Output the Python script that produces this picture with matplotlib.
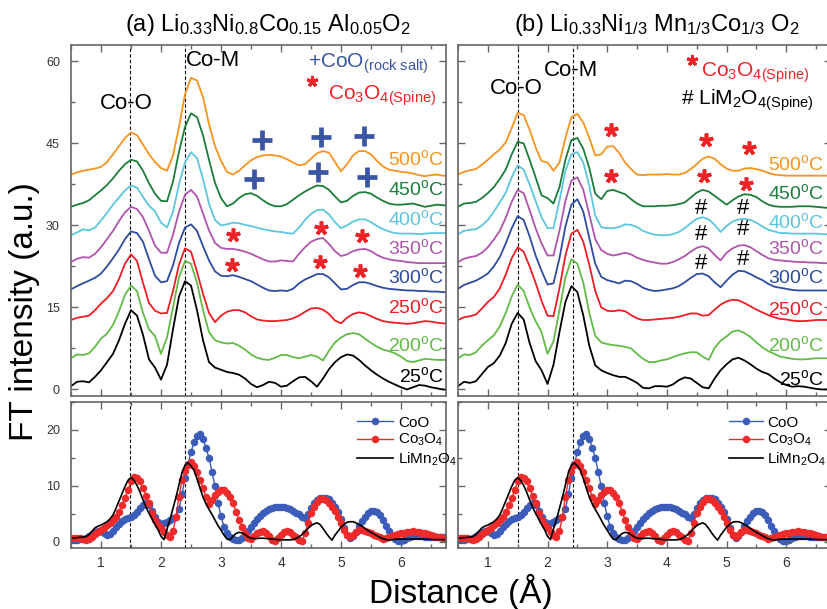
import matplotlib
matplotlib.use("Agg")
import matplotlib.pyplot as plt
import numpy as np
from matplotlib.ticker import MultipleLocator

plt.rcParams['font.family'] = 'Liberation Sans'
plt.rcParams['mathtext.fontset'] = 'custom'
plt.rcParams['mathtext.rm'] = 'Liberation Sans'
plt.rcParams['mathtext.it'] = 'Liberation Sans:italic'
plt.rcParams['mathtext.bf'] = 'Liberation Sans:bold'

# radial distance grid of the measured FT curves (0.5 .. 6.8 A)
r = np.round(np.arange(0.5, 6.85, 0.1), 2)

temps = ["500", "450", "400", "350", "300", "250", "200", "25"]
colors = ["#f7931e", "#1a7d3b", "#5cc6df", "#b054ad", "#2d4c9f", "#ee1d24", "#62bb46", "#000000"]

# (a) Li0.33Ni0.8Co0.15Al0.05O2, offset FT magnitudes
a_500 = [39.3, 39.7, 40.0, 40.2, 40.4, 40.7, 41.6, 43.0, 44.5, 46.0,
         47.0, 46.5, 44.8, 43.0, 41.6, 40.5, 40.0, 42.8, 48.0, 54.0,
         57.0, 56.5, 53.5, 48.5, 44.5, 41.8, 39.8, 39.3, 40.0, 41.0,
         41.9, 42.5, 42.8, 42.9, 42.8, 42.6, 42.1, 41.5, 41.0, 41.2,
         42.2, 43.2, 43.6, 43.3, 41.6, 39.9, 41.2, 42.8, 43.6, 43.6,
         43.0, 41.8, 40.8, 40.2, 40.0, 39.8, 39.7, 39.5, 39.2, 39.0,
         39.2, 39.3, 39.1, 39.0]
a_450 = [33.4, 33.8, 34.1, 34.6, 35.5, 36.4, 37.4, 38.6, 40.0, 41.2,
         42.0, 41.7, 40.0, 37.7, 35.8, 34.5, 34.4, 38.0, 43.5, 48.0,
         50.5, 49.8, 46.5, 42.0, 37.8, 35.0, 33.5, 34.0, 35.0, 35.7,
         35.9, 35.4, 34.6, 33.9, 33.5, 33.5, 33.9, 34.7, 35.5, 36.2,
         36.8, 37.3, 37.2, 36.5, 35.3, 34.2, 34.5, 35.4, 36.0, 36.1,
         35.8, 35.1, 34.5, 34.0, 33.8, 33.8, 33.9, 34.0, 33.7, 33.4,
         33.6, 33.8, 33.7, 33.6]
a_400 = [28.2, 28.7, 29.3, 29.1, 29.6, 30.9, 32.3, 33.8, 35.1, 36.4,
         37.3, 36.9, 35.2, 33.6, 32.6, 30.5, 29.6, 32.5, 37.5, 41.5,
         43.4, 42.3, 38.5, 34.0, 31.0, 30.0, 30.2, 30.5, 30.4, 30.1,
         29.9, 29.6, 29.3, 29.1, 28.9, 28.8, 28.6, 28.5, 29.6, 31.0,
         32.1, 32.8, 32.9, 32.0, 30.6, 29.5, 30.0, 30.7, 31.1, 31.1,
         30.6, 29.9, 29.3, 28.9, 28.6, 28.5, 28.5, 28.5, 28.4, 28.5,
         28.6, 28.6, 28.6, 28.6]
a_350 = [23.3, 23.9, 24.2, 24.1, 24.8, 26.0, 27.5, 29.0, 30.8, 32.4,
         33.4, 33.0, 31.5, 29.0, 26.3, 25.0, 25.0, 28.3, 32.5, 35.6,
         36.5, 35.3, 32.2, 29.1, 26.8, 25.9, 25.7, 25.7, 25.5, 25.2,
         24.8, 24.3, 23.8, 23.4, 23.4, 23.6, 23.5, 23.4, 24.8, 26.0,
         27.0, 27.5, 27.7, 26.6, 25.3, 24.4, 24.7, 25.3, 25.6, 25.7,
         25.3, 24.6, 24.1, 23.8, 23.6, 23.5, 23.3, 23.2, 23.1, 23.1,
         23.1, 23.1, 23.1, 23.1]
a_300 = [18.3, 18.9, 19.4, 19.9, 20.4, 21.2, 22.5, 24.0, 25.6, 27.5,
         28.9, 28.6, 27.0, 23.8, 20.8, 19.6, 19.8, 22.7, 26.8, 29.6,
         30.2, 29.0, 26.2, 23.6, 21.6, 20.8, 20.7, 20.9, 20.6, 20.2,
         19.8, 19.2, 18.6, 18.1, 18.0, 18.1, 18.0, 18.4, 19.4, 20.1,
         20.6, 21.1, 21.1, 20.5, 19.4, 18.3, 18.4, 19.1, 19.6, 19.6,
         19.3, 18.9, 18.6, 18.4, 18.3, 18.2, 18.1, 18.1, 18.0, 18.0,
         17.9, 17.9, 17.8, 17.8]
a_250 = [12.7, 13.1, 13.3, 13.5, 14.5, 15.7, 16.7, 18.0, 20.2, 23.0,
         24.7, 23.5, 19.5, 15.8, 14.4, 13.9, 14.0, 18.0, 22.8, 25.8,
         25.2, 21.5, 17.5, 14.0, 12.3, 13.5, 14.2, 14.5, 14.5, 14.1,
         13.4, 12.8, 12.6, 12.5, 12.5, 12.6, 12.7, 13.0, 13.5, 14.2,
         14.8, 14.9, 14.6, 13.8, 12.6, 12.1, 13.1, 13.8, 14.1, 13.9,
         13.4, 12.9, 12.5, 12.3, 12.2, 12.1, 12.0, 12.1, 12.3, 12.5,
         12.4, 12.2, 12.1, 12.0]
a_200 = [5.7, 6.4, 6.3, 6.6, 7.8, 9.3, 10.2, 11.8, 14.3, 17.3,
         19.0, 18.0, 14.0, 11.0, 9.8, 6.5, 9.5, 15.0, 20.5, 23.5,
         23.0, 19.5, 14.5, 10.5, 9.0, 8.6, 8.4, 8.5, 8.0, 7.3,
         6.4, 5.8, 5.5, 5.4, 5.8, 6.3, 6.3, 5.9, 5.7, 6.0,
         6.3, 6.0, 5.3, 7.1, 8.6, 9.5, 10.1, 10.3, 10.1, 9.3,
         8.5, 7.8, 7.3, 7.0, 6.6, 6.0, 5.2, 5.0, 5.3, 5.6,
         5.5, 5.4, 5.4, 5.4]
a_25 = [0.6, 1.4, 1.5, 1.3, 2.3, 3.5, 5.0, 6.5, 9.0, 12.0,
        14.5, 13.5, 10.0, 5.5, 4.0, 1.8, 4.5, 11.0, 17.0, 19.8,
        19.0, 14.5, 9.0, 5.0, 4.0, 3.6, 3.2, 3.0, 2.7, 2.0,
        1.0, 0.4, 0.8, 1.4, 1.2, 0.5, 0.7, 1.5, 2.2, 2.3,
        1.5, 0.5, 2.0, 3.7, 5.0, 5.9, 6.4, 6.2, 5.4, 4.4,
        3.5, 2.7, 2.0, 1.4, 0.9, 0.4, 0.0, 0.4, 0.8, 0.7,
        0.4, 0.2, 0.0, -0.1]

# (b) Li0.33Ni1/3Mn1/3Co1/3O2, offset FT magnitudes
b_500 = [39.3, 39.8, 40.1, 40.3, 41.1, 42.0, 43.0, 43.9, 45.2, 47.8,
         50.6, 50.2, 47.5, 44.3, 41.8, 41.5, 40.0, 41.5, 46.0, 49.8,
         50.4, 48.8, 46.0, 42.8, 43.0, 44.4, 44.5, 43.3, 41.5, 40.3,
         39.3, 39.2, 39.3, 39.3, 39.3, 39.4, 39.3, 39.3, 39.6, 40.3,
         41.2, 42.2, 42.6, 42.2, 41.2, 40.4, 40.0, 40.0, 40.4, 40.5,
         40.3, 40.0, 39.6, 39.3, 39.2, 39.1, 39.1, 39.1, 39.1, 39.1,
         39.1, 39.1, 39.1, 39.1]
b_450 = [33.4, 34.0, 34.1, 34.3, 35.0, 35.9, 37.0, 38.5, 40.2, 43.0,
         45.3, 45.0, 42.0, 38.8, 35.5, 35.0, 34.0, 37.0, 42.0, 45.6,
         46.0, 44.0, 40.5, 35.8, 34.8, 36.3, 36.5, 36.1, 35.7, 34.8,
         34.0, 33.5, 33.5, 33.5, 33.6, 33.6, 33.7, 33.9, 34.2, 35.1,
         36.0, 36.5, 36.2, 35.4, 34.6, 33.8, 34.6, 35.3, 35.7, 35.6,
         35.2, 34.4, 33.8, 33.5, 33.4, 33.4, 33.4, 33.5, 33.5, 33.5,
         33.4, 33.3, 33.2, 33.2]
b_400 = [28.4, 29.0, 29.2, 29.3, 30.0, 31.0, 32.5, 34.2, 36.0, 38.8,
         41.0, 40.2, 37.5, 34.5, 31.5, 29.5, 29.5, 34.5, 40.0, 43.0,
         43.4, 41.5, 37.2, 31.8, 29.7, 29.5, 29.5, 29.7, 30.2, 30.1,
         29.7, 29.0, 28.6, 28.3, 28.2, 28.2, 28.4, 28.8, 29.5, 30.4,
         31.2, 31.5, 31.1, 30.1, 28.8, 29.9, 30.7, 31.1, 31.2, 31.0,
         30.5, 29.8, 29.2, 28.9, 28.6, 28.6, 28.5, 28.5, 28.5, 28.5,
         28.5, 28.4, 28.4, 28.4]
b_350 = [23.3, 23.9, 24.2, 24.4, 25.0, 26.0, 27.4, 29.0, 31.4, 34.3,
         36.5, 35.9, 32.8, 29.5, 26.7, 24.5, 24.5, 29.0, 34.5, 38.2,
         38.8, 36.5, 32.0, 27.5, 25.5, 24.8, 24.5, 24.7, 25.0, 24.7,
         24.1, 23.7, 23.4, 23.2, 23.0, 23.0, 23.3, 23.8, 24.4, 25.2,
         25.9, 26.2, 25.8, 24.6, 23.6, 25.0, 25.8, 26.3, 26.4, 26.0,
         25.3, 24.6, 24.0, 23.7, 23.6, 23.5, 23.4, 23.3, 23.3, 23.2,
         23.2, 23.1, 23.1, 23.1]
b_300 = [18.4, 19.1, 19.5, 19.9, 20.5, 21.2, 22.5, 24.2, 26.7, 29.5,
         31.7, 31.0, 28.0, 24.5, 21.7, 19.2, 19.4, 24.0, 29.8, 33.8,
         34.8, 32.5, 27.7, 23.0, 20.6, 20.0, 19.7, 19.4, 19.9, 19.8,
         19.3, 18.6, 18.2, 18.0, 18.1, 18.3, 18.5, 18.9, 19.6, 20.4,
         21.1, 21.2, 20.7, 19.6, 18.7, 19.9, 21.0, 21.7, 21.6, 21.1,
         20.5, 20.0, 19.3, 18.8, 18.6, 18.4, 18.2, 18.1, 18.1, 18.1,
         18.1, 18.1, 18.1, 18.1]
b_250 = [12.7, 13.2, 13.4, 13.7, 14.8, 16.0, 16.9, 18.5, 21.0, 24.0,
         26.0, 25.2, 22.5, 19.5, 16.2, 13.5, 13.4, 18.5, 24.5, 28.5,
         29.2, 27.0, 22.8, 18.0, 15.0, 14.4, 14.3, 14.5, 14.3, 13.6,
         13.0, 12.7, 12.7, 12.8, 12.9, 13.0, 13.1, 13.3, 13.6, 13.9,
         13.9, 13.5, 13.6, 14.6, 15.5, 16.1, 16.4, 16.3, 15.8, 15.2,
         14.6, 14.1, 13.6, 13.2, 12.9, 12.8, 12.6, 12.5, 12.5, 12.6,
         12.7, 12.7, 12.7, 12.7]
b_200 = [5.7, 6.4, 6.3, 6.8, 8.0, 9.0, 9.9, 11.5, 14.0, 17.0,
         19.2, 18.0, 15.0, 12.5, 10.5, 6.5, 8.8, 14.5, 20.5, 23.8,
         23.0, 19.5, 14.0, 9.8, 8.6, 8.3, 8.1, 8.0, 7.8, 7.5,
         6.5, 5.6, 5.0, 5.0, 5.3, 5.5, 5.9, 6.3, 6.6, 6.8,
         6.8, 6.0, 5.4, 7.6, 8.9, 9.7, 10.6, 10.8, 10.3, 9.6,
         8.6, 7.7, 7.0, 6.5, 6.0, 5.8, 5.6, 5.5, 5.5, 5.6,
         5.7, 5.7, 5.7, 5.7]
b_25 = [0.6, 1.4, 1.2, 1.5, 2.8, 4.1, 4.8, 6.2, 8.5, 12.0,
        14.0, 12.8, 8.5, 5.2, 3.5, 1.0, 4.5, 10.5, 16.0, 18.9,
        17.8, 13.5, 8.0, 4.4, 3.5, 3.0, 2.6, 2.3, 2.3, 1.8,
        1.2, 0.3, 0.2, 0.6, 0.6, 0.5, 0.9, 1.7, 2.2, 2.0,
        1.2, 0.4, 0.2, 2.0, 3.5, 4.6, 5.5, 5.8, 5.3, 4.6,
        3.8, 3.2, 2.8, 2.0, 1.3, 0.8, 0.5, 0.6, 0.5, 0.3,
        0.1, 0.0, 0.0, 0.0]

# reference compounds, finer grid (0.5 .. 6.8 A, step 0.05)
r_ref = np.round(np.arange(0.5, 6.825, 0.05), 2)
ref_coo = [0.4, 0.4, 0.4, 0.45, 0.5, 0.7, 1.0, 1.4, 1.8, 2.0,
           1.9, 1.5, 1.25, 1.4, 2.0, 2.6, 3.2, 3.7, 4.0, 4.2,
           4.4, 4.8, 5.3, 6.0, 6.6, 6.9, 6.6, 5.6, 4.5, 3.6,
           3.2, 3.3, 3.6, 3.9, 4.2, 4.5, 5.8, 8.5, 11.5, 14.0,
           16.0, 17.8, 19.0, 19.2, 18.4, 16.8, 15.0, 12.5, 9.9, 7.0,
           4.6, 2.7, 1.5, 0.9, 0.5, 0.3, 0.3, 0.6, 1.2, 1.9,
           2.7, 3.4, 4.1, 4.6, 5.1, 5.6, 5.9, 6.1, 6.2, 6.3,
           6.3, 6.2, 6.0, 5.8, 5.5, 5.2, 4.9, 4.5, 4.3, 4.9,
           6.0, 6.9, 7.5, 7.8, 7.9, 7.9, 7.6, 7.0, 6.2, 5.3,
           4.0, 2.4, 1.2, 0.7, 1.0, 1.8, 2.8, 3.7, 4.5, 5.1,
           5.5, 5.6, 5.4, 4.8, 3.9, 2.9, 1.9, 1.1, 0.5, 0.1,
           0.1, 0.4, 0.7, 0.9, 1.0, 1.0, 1.0, 1.0, 0.95, 0.9,
           0.9, 0.85, 0.85, 0.8, 0.8, 0.8, 0.8]
ref_co3o4 = [0.65, 0.7, 0.7, 0.6, 0.45, 0.35, 0.5, 0.9, 1.4, 1.8,
             2.1, 2.5, 3.0, 3.4, 3.9, 4.5, 5.4, 6.6, 7.8, 9.3,
             10.8, 11.6, 11.5, 10.8, 9.6, 8.2, 6.9, 5.1, 3.9, 3.0,
             2.4, 1.8, 1.2, 0.9, 1.9, 4.5, 8.1, 11.0, 12.6, 13.8,
             14.2, 13.5, 12.4, 11.0, 9.7, 8.0, 6.8, 7.4, 8.3, 8.9,
             9.2, 9.2, 8.8, 8.0, 6.9, 5.4, 3.9, 2.6, 1.5, 0.6,
             0.5, 1.0, 1.5, 1.8, 1.9, 1.6, 1.0, 0.4, 0.1, 0.6,
             1.2, 1.7, 1.9, 1.7, 1.3, 0.8, 0.3, 0.1, 1.5, 3.3,
             5.1, 6.3, 7.1, 7.6, 7.7, 7.5, 7.0, 6.3, 5.5, 4.5,
             3.3, 2.1, 1.3, 0.95, 1.3, 1.8, 2.2, 2.2, 2.0, 1.8,
             1.5, 1.2, 1.0, 0.8, 0.5, 0.6, 0.9, 1.1, 1.3, 1.45,
             1.55, 1.65, 1.75, 1.8, 1.85, 1.8, 1.7, 1.6, 1.5, 1.35,
             1.25, 1.1, 0.95, 0.85, 0.75, 0.65, 0.6]
ref_limn2o4 = [0.65, 0.7, 0.75, 0.8, 0.85, 0.95, 1.3, 1.9, 2.5, 2.8,
               3.0, 3.3, 3.6, 4.1, 4.8, 6.0, 7.3, 8.6, 9.9, 11.0,
               11.5, 11.0, 10.1, 8.9, 7.5, 6.2, 5.1, 4.1, 3.1, 2.2,
               1.0, 0.4, 2.3, 4.0, 6.0, 8.0, 10.2, 12.4, 13.7, 14.1,
               13.6, 12.8, 11.3, 9.6, 8.0, 6.8, 5.8, 4.9, 3.9, 2.9,
               2.1, 1.2, 0.5, 0.4, 1.0, 1.5, 1.7, 1.6, 1.3, 0.9,
               0.65, 0.6, 0.6, 0.65, 0.65, 0.6, 0.55, 0.5, 0.45, 0.4,
               0.35, 0.35, 0.35, 0.35, 0.4, 0.6, 0.9, 1.3, 1.8, 2.4,
               2.9, 3.2, 3.4, 3.1, 2.4, 1.6, 0.9, 0.3, 1.2, 1.9,
               2.6, 3.1, 3.5, 3.6, 3.6, 3.4, 3.1, 2.8, 2.4, 2.0,
               1.7, 1.4, 1.1, 0.8, 0.55, 0.4, 0.35, 0.4, 0.45, 0.5,
               0.5, 0.5, 0.5, 0.5, 0.5, 0.5, 0.5, 0.5, 0.5, 0.45,
               0.45, 0.4, 0.4, 0.4, 0.4, 0.4, 0.4]

# label heights of the temperature tags
a_label_y = [42.2, 36.6, 31.1, 25.8, 20.6, 15.1, 8.1, 2.4]
b_label_y = [41.3, 35.9, 30.6, 25.8, 20.6, 14.8, 8.1, 2.0]

# phase markers (x, y) placed over the curves
a_plus = [(3.69, 45.7), (4.67, 46.2), (5.38, 46.3), (3.55, 38.4), (4.62, 39.7), (5.44, 38.9)]
a_star = [(3.20, 28.2), (4.67, 29.5), (5.35, 28.0), (3.18, 22.7), (4.65, 23.3), (5.32, 21.7)]
b_star = [(3.06, 47.5), (4.66, 45.6), (5.37, 44.1), (3.06, 39.0), (4.63, 39.0), (5.33, 37.5)]
b_hash = [(4.57, 33.1), (5.27, 33.1), (4.57, 28.4), (5.27, 29.3), (4.57, 23.0), (5.27, 23.8)]

BLUE = "#3a55a6"
RED = "#ee2328"
SPINE = "#666666"

fig = plt.figure(figsize=(8.27, 6.09), dpi=100)
W, H = 827.0, 609.0
ax_at = fig.add_axes([71 / W, 1 - 396 / H, 375 / W, 351 / H])
ax_ab = fig.add_axes([71 / W, 1 - 548 / H, 375 / W, 146 / H])
ax_bt = fig.add_axes([458 / W, 1 - 396 / H, 373 / W, 351 / H])
ax_bb = fig.add_axes([458 / W, 1 - 548 / H, 373 / W, 146 / H])


def style(ax, top, show_y):
    ax.set_xlim(0.5, 6.75)
    ax.xaxis.set_major_locator(MultipleLocator(1))
    ax.xaxis.set_minor_locator(MultipleLocator(0.5))
    if top:
        ax.set_ylim(-1.2, 63)
        ax.yaxis.set_major_locator(MultipleLocator(15))
        ax.yaxis.set_minor_locator(MultipleLocator(7.5))
    else:
        ax.set_ylim(-1.1, 25)
        ax.yaxis.set_major_locator(MultipleLocator(10))
        ax.yaxis.set_minor_locator(MultipleLocator(5))
    ax.tick_params(which='both', direction='in', top=True, right=True,
                   color=SPINE, width=1.0, labelcolor='#333333')
    ax.tick_params(which='major', length=5)
    ax.tick_params(which='minor', length=3)
    ax.tick_params(axis='x', labelsize=10, pad=6)
    ax.tick_params(axis='y', labelsize=9, pad=8)
    if top:
        ax.tick_params(axis='x', labelbottom=False)
    if not show_y:
        ax.tick_params(axis='y', labelleft=False)
    for s in ax.spines.values():
        s.set_color(SPINE)
        s.set_linewidth(1.2)


style(ax_at, True, True)
style(ax_ab, False, True)
style(ax_bt, True, False)
style(ax_bb, False, False)

deg = [t + r"$^{\rm o}$C" for t in temps]

# stacked spectra; tags of panel (b) kept inside the visible area
for ax, curves, ly, xr in [(ax_at, [a_500, a_450, a_400, a_350, a_300, a_250, a_200, a_25], a_label_y, 6.72),
                           (ax_bt, [b_500, b_450, b_400, b_350, b_300, b_250, b_200, b_25], b_label_y, 6.63)]:
    for y, c, lab, yl in zip(curves, colors, deg, ly):
        ax.plot(r, y, color=c, lw=1.3)
        ax.text(xr, yl, lab, color=c, fontsize=14, ha='right', va='center')

# reference standards
for ax in (ax_ab, ax_bb):
    ax.plot(r_ref, ref_coo, '-o', color="#3b5cb8", lw=1.0, ms=4.4, mec="#3b5cb8", label="CoO")
    ax.plot(r_ref, ref_co3o4, '-o', color="#ee2a2a", lw=1.0, ms=4.4, mec="#ee2a2a", label=r"Co$_3$O$_4$")
    ax.plot(r_ref, ref_limn2o4, '-', color='black', lw=1.2, label=r"LiMn$_2$O$_4$")

ax_ab.legend(loc='upper left', bbox_to_anchor=(0.725, 1.0), frameon=False, fontsize=11,
             handlelength=2.4, handletextpad=0.3, labelspacing=0.15, markerscale=1.0)
ax_bb.legend(loc='upper left', bbox_to_anchor=(0.69, 1.0), frameon=False, fontsize=11,
             handlelength=2.2, handletextpad=0.3, labelspacing=0.15, markerscale=1.0)

# Co-O / Co-M guide lines
for ax, xs in [(ax_at, (1.48, 2.405)), (ax_ab, (1.48, 2.405)),
               (ax_bt, (1.50, 2.42)), (ax_bb, (1.50, 2.42))]:
    for xv in xs:
        ax.axvline(xv, color='black', lw=0.8, ls=(0, (3, 2)), zorder=0.5)

ax_at.text(1.43, 52.3, "Co-O", fontsize=16, ha='center', va='center')
ax_at.text(2.86, 60.2, "Co-M", fontsize=16, ha='center', va='center')
ax_bt.text(1.47, 55.0, "Co-O", fontsize=16, ha='center', va='center')
ax_bt.text(2.39, 58.4, "Co-M", fontsize=16, ha='center', va='center')

# phase keys
ax_at.text(4.45, 59.6, r"+CoO$_{\rm (rock\ salt)}$", color=BLUE, fontsize=15, ha='left', va='center')
ax_at.plot([4.52], [56.4], marker=(5, 2, 0), color=RED, ms=8, mew=2.2, ls='none')
ax_at.text(4.78, 53.8, r"Co$_3$O$_{4\rm (Spine)}$", color=RED, fontsize=15, ha='left', va='center')
ax_bt.plot([4.42], [60.2], marker=(5, 2, 0), color=RED, ms=8, mew=2.2, ls='none')
ax_bt.text(4.58, 58.0, r"Co$_3$O$_{4\rm (Spine)}$", color=RED, fontsize=15, ha='left', va='center')
ax_bt.text(4.23, 52.9, r"# LiM$_2$O$_{4\rm (Spine)}$", color='black', fontsize=15, ha='left', va='center')

for x, y in a_plus:
    ax_at.plot([x], [y], marker='+', color=BLUE, ms=14, mew=3.4, ls='none')
for ax, pts in [(ax_at, a_star), (ax_bt, b_star)]:
    for x, y in pts:
        ax.plot([x], [y], marker=(5, 2, 0), color=RED, ms=10, mew=2.6, ls='none')
for x, y in b_hash:
    ax_bt.text(x, y, "#", fontsize=16, ha='center', va='center')

ax_at.text(0.525, 1.02, r"(a) Li$_{0.33}$Ni$_{0.8}$Co$_{0.15}$ Al$_{0.05}$O$_2$",
           transform=ax_at.transAxes, fontsize=17, ha='center', va='bottom')
ax_bt.text(0.534, 1.02, r"(b) Li$_{0.33}$Ni$_{1/3}$ Mn$_{1/3}$Co$_{1/3}$ O$_2$",
           transform=ax_bt.transAxes, fontsize=17, ha='center', va='bottom')

fig.text(25 / W, 0.489, "FT intensity (a.u.)", rotation=90, fontsize=24, ha='center', va='center')
fig.text(0.557, 0.028, "Distance (Å)", fontsize=24, ha='center', va='center')

fig.savefig("out.png", dpi=100)
